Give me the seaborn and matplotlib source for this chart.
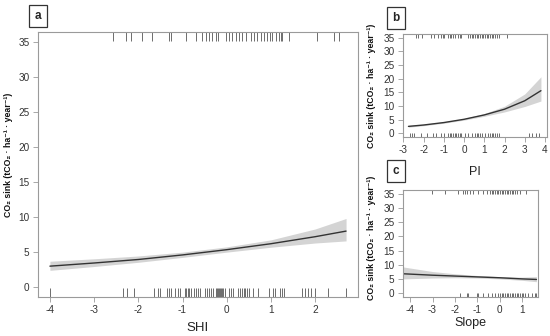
import matplotlib
matplotlib.use('Agg')
import matplotlib.pyplot as plt
import seaborn as sns
import numpy as np

# ---- panel a: SHI ----
shi_x = [-4, -3, -2, -1, 0, 1, 2, 2.7]
shi_fit = [3.0, 3.45, 3.95, 4.6, 5.35, 6.2, 7.2, 8.0]
shi_lo = [2.4, 2.95, 3.55, 4.25, 5.0, 5.7, 6.3, 6.6]
shi_hi = [3.7, 4.05, 4.45, 5.0, 5.75, 6.75, 8.3, 9.8]
shi_rug_top = [-2.57, -2.27, -2.16, -1.91, -1.70, -1.30, -1.25, -0.93, -0.70, -0.57,
               -0.48, -0.41, -0.34, -0.25, -0.20, -0.02, 0.05, 0.11, 0.20, 0.27,
               0.34, 0.43, 0.55, 0.61, 0.68, 0.77, 0.84, 0.91, 0.98, 1.02, 1.11,
               1.18, 1.23, 1.25, 1.41, 2.05, 2.43, 2.55]
shi_rug_bot = [-4.0, -2.35, -2.25, -2.1, -1.65, -1.55, -1.5, -1.35, -1.3, -1.25, -1.18,
               -1.1, -1.05, -0.95, -0.92, -0.88, -0.85, -0.8, -0.75, -0.7, -0.65, -0.6,
               -0.5, -0.45, -0.4, -0.35, -0.3, -0.25, -0.22, -0.2, -0.18, -0.15, -0.12,
               -0.1, -0.08, -0.05, 0.05, 0.1, 0.15, 0.25, 0.3, 0.35, 0.4, 0.42, 0.45,
               0.5, 0.6, 0.7, 0.95, 1.05, 1.1, 1.2, 1.25, 1.3, 1.7, 1.78, 1.85, 1.9,
               2.0, 2.3, 2.7]

# ---- panel b: PI ----
pi_x = [-2.75, -2, -1, 0, 1, 2, 3, 3.8]
pi_fit = [2.5, 3.0, 3.9, 5.1, 6.7, 8.8, 11.9, 15.6]
pi_lo = [2.2, 2.75, 3.65, 4.8, 6.2, 7.8, 9.8, 11.8]
pi_hi = [2.8, 3.3, 4.2, 5.4, 7.2, 9.9, 14.4, 20.7]
pi_rug_top = [-2.4, -2.3, -2.06, -1.64, -1.47, -1.3, -1.14, -1.05, -0.97, -0.8, -0.72,
              -0.63, -0.55, -0.47, -0.3, -0.22, -0.14, 0.2, 0.28, 0.37, 0.45, 0.53,
              0.62, 0.7, 0.78, 0.87, 0.95, 1.03, 1.12, 1.2, 1.28, 1.37, 1.45, 1.54,
              1.62, 1.71, 2.13]
pi_rug_bot = [-2.65, -2.57, -2.48, -2.15, -1.81, -1.56, -1.39, -1.14, -0.97, -0.8,
              -0.72, -0.63, -0.55, -0.47, -0.39, -0.3, -0.22, -0.14, 0.03, 0.2, 0.37,
              0.53, 0.62, 0.7, 0.78, 0.87, 1.03, 1.2, 1.28, 1.37, 1.45, 1.54, 1.62,
              1.71, 3.22, 3.38, 3.55, 3.72]

# ---- panel c: Slope ----
sl_x = [-4.3, -3, -2, -1, 0, 1, 1.65]
sl_fit = [6.8, 6.3, 6.0, 5.7, 5.4, 5.0, 4.8]
sl_lo = [5.0, 5.3, 5.4, 5.3, 5.0, 4.5, 4.0]
sl_hi = [9.2, 7.6, 6.8, 6.2, 5.8, 5.6, 5.8]
sl_rug_top = [-3.03, -2.44, -1.84, -1.62, -1.55, -1.47, -1.32, -1.17, -0.95, -0.73,
              -0.58, -0.43, -0.36, -0.28, -0.21, -0.13, -0.06, 0.02, 0.09, 0.17,
              0.24, 0.32, 0.39, 0.47, 0.54, 0.61, 0.69, 0.76, 0.91, 1.2]
sl_rug_bot = [-4.3, -1.77, -1.47, -1.4, -1.02, -0.95, -0.73, -0.5, -0.36, -0.21,
              -0.06, 0.02, 0.09, 0.17, 0.24, 0.32, 0.39, 0.47, 0.54, 0.61, 0.69,
              0.76, 0.84, 0.91, 0.99, 1.06, 1.14, 1.29, 1.44, 1.58, 1.65]

ylab = 'CO\u2082 sink (tCO\u2082 \u00b7 ha\u207b\u00b9 \u00b7 year\u207b\u00b9)'
yticks = [0, 5, 10, 15, 20, 25, 30, 35]

sns.set_style('white')
plt.rcParams['font.family'] = ['Liberation Sans', 'DejaVu Sans']
plt.rcParams['axes.unicode_minus'] = False

W, H = 550, 336
fig = plt.figure(figsize=(W / 100, H / 100), dpi=100)


def box(px):
    # pixel box (x0, y0, x1, y1) from top-left -> figure fraction rect
    x0, y0, x1, y1 = px
    return [x0 / W, 1 - y1 / H, (x1 - x0) / W, (y1 - y0) / H]


def panel(rect, x, fit, lo, hi, rug_top, rug_bot, xlim, xticks, xlabel,
          fs_lab, xlab_y, ylab_xy):
    ax = fig.add_axes(box(rect))
    ax.fill_between(x, lo, hi, color='#d4d4d4', linewidth=0)
    sns.lineplot(x=x, y=fit, ax=ax, color='#333333', linewidth=1.0)
    sns.rugplot(x=rug_bot, ax=ax, height=0.035, color='#555555', linewidth=0.6)
    ax.vlines(rug_top, 0.965, 1.0, transform=ax.get_xaxis_transform(),
              color='#555555', linewidth=0.6)
    ax.set_xlim(*xlim)
    ax.set_ylim(-1.4, 36.4)
    ax.set_xticks(xticks)
    ax.set_yticks(yticks)
    for s in ax.spines.values():
        s.set_color('#9a9a9a')
        s.set_linewidth(0.8)
    ax.tick_params(axis='both', direction='out', length=3.5, width=0.6,
                   color='#9a9a9a', labelsize=7.2, labelcolor='#333333',
                   pad=2.5, bottom=True, left=True)
    ax.set_xlabel(xlabel, fontsize=fs_lab, color='#222222')
    ax.xaxis.set_label_coords(0.5, xlab_y)
    ax.set_ylabel(ylab, fontsize=6.3, fontweight='bold', color='#111111')
    ax.yaxis.set_label_coords(*ylab_xy)
    return ax


panel((38, 32, 358, 297), shi_x, shi_fit, shi_lo, shi_hi, shi_rug_top, shi_rug_bot,
      (-4.27, 2.97), [-4, -3, -2, -1, 0, 1, 2], 'SHI', 9.5, -0.094, (-0.078, 0.535))
panel((403, 34, 547, 137), pi_x, pi_fit, pi_lo, pi_hi, pi_rug_top, pi_rug_bot,
      (-3.02, 4.1), [-3, -2, -1, 0, 1, 2, 3, 4], 'PI', 9.0, -0.28, (-0.1875, 0.5))
panel((403, 190, 538, 297), sl_x, sl_fit, sl_lo, sl_hi, sl_rug_top, sl_rug_bot,
      (-4.32, 1.72), [-4, -3, -2, -1, 0, 1], 'Slope', 9.0, -0.19, (-0.2, 0.55))

# panel letters in boxes
for letter, (cx, cy) in zip(['a', 'b', 'c'], [(38, 16), (396, 18), (396, 171)]):
    fig.text(cx / W, 1 - cy / H, letter, fontsize=8.5, fontweight='bold',
             ha='center', va='center',
             bbox=dict(boxstyle='square,pad=0.45', facecolor='white',
                       edgecolor='#333333', linewidth=0.9))

fig.savefig('out.png', dpi=100)
